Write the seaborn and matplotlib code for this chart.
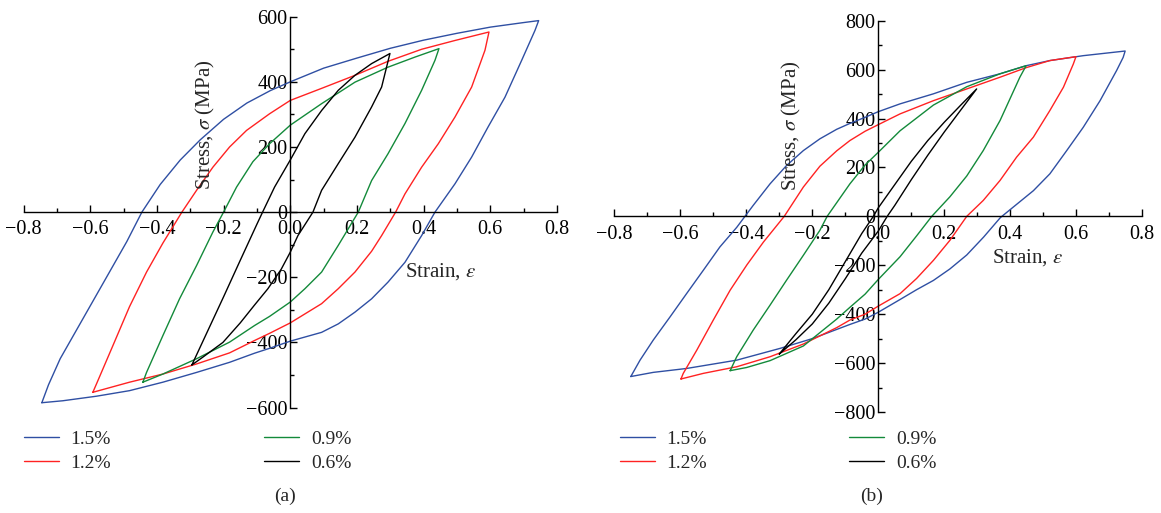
import numpy as np
import pandas as pd
import matplotlib
matplotlib.use("Agg")
import matplotlib.pyplot as plt
import seaborn as sns
from matplotlib.lines import Line2D
from matplotlib.ticker import MultipleLocator, FuncFormatter

# strain amplitudes and their colours
levels = ["1.5%", "1.2%", "0.9%", "0.6%"]
colors = ["#2f4fa3", "#ff2222", "#138a3a", "#000000"]

# hysteresis loops: (strain, stress MPa), upper branch then lower branch
loop_a_15 = [(-0.745, -585), (-0.725, -530), (-0.69, -450), (-0.64, -360), (-0.59, -270), (-0.54, -180),
             (-0.49, -90), (-0.445, 0), (-0.39, 85), (-0.33, 160), (-0.27, 222), (-0.2, 285), (-0.13, 335),
             (-0.06, 373), (0.0, 400), (0.1, 442), (0.2, 473), (0.3, 503), (0.4, 528), (0.5, 549), (0.6, 568),
             (0.7, 582), (0.745, 588),
             (0.734, 558), (0.694, 466), (0.644, 353), (0.593, 261), (0.544, 169), (0.494, 87), (0.434, 0),
             (0.394, -72), (0.344, -154), (0.293, -215), (0.244, -266), (0.194, -307), (0.144, -343),
             (0.094, -369), (0.0, -396), (-0.062, -418), (-0.107, -433), (-0.182, -461), (-0.281, -492),
             (-0.382, -522), (-0.482, -548), (-0.581, -565), (-0.682, -579), (-0.745, -585)]
loop_a_12 = [(-0.592, -553), (-0.581, -527), (-0.532, -410), (-0.482, -290), (-0.431, -184), (-0.382, -95),
             (-0.325, 0), (-0.281, 67), (-0.232, 138), (-0.182, 200), (-0.131, 251), (-0.062, 302), (0.0, 343),
             (0.094, 380), (0.194, 420), (0.293, 463), (0.394, 500), (0.494, 527), (0.596, 553),
             (0.584, 497), (0.544, 384), (0.494, 292), (0.444, 210), (0.394, 138), (0.344, 56), (0.316, 0),
             (0.274, -72), (0.244, -120), (0.194, -184), (0.144, -235), (0.094, -281), (0.0, -340),
             (-0.062, -372), (-0.107, -394), (-0.182, -432), (-0.281, -466), (-0.382, -497), (-0.482, -522),
             (-0.592, -553)]
loop_a_09 = [(-0.442, -522), (-0.431, -492), (-0.382, -379), (-0.332, -266), (-0.281, -164), (-0.232, -61),
             (-0.2, 0), (-0.161, 77), (-0.112, 155), (-0.062, 210), (0.0, 267), (0.094, 333), (0.194, 399),
             (0.293, 445), (0.374, 476), (0.446, 502),
             (0.434, 466), (0.394, 374), (0.344, 272), (0.293, 179), (0.244, 97), (0.204, 0), (0.144, -102),
             (0.094, -184), (0.044, -235), (0.0, -276), (-0.062, -320), (-0.107, -348), (-0.182, -399),
             (-0.281, -450), (-0.382, -497), (-0.442, -522)]
loop_a_06 = [(-0.295, -469), (-0.25, -370), (-0.2, -260), (-0.15, -148), (-0.1, -37), (-0.083, 0),
             (-0.047, 77), (0.0, 160), (0.044, 241), (0.094, 312), (0.144, 374), (0.194, 420), (0.244, 456),
             (0.299, 487),
             (0.274, 384), (0.244, 323), (0.194, 230), (0.144, 149), (0.094, 67), (0.068, 0), (0.023, -72),
             (0.0, -123), (-0.027, -175), (-0.067, -235), (-0.107, -285), (-0.15, -340), (-0.202, -400),
             (-0.262, -445), (-0.295, -469)]

loop_b_15 = [(-0.75, -655), (-0.722, -588), (-0.682, -506), (-0.631, -411), (-0.581, -316), (-0.53, -220),
             (-0.48, -125), (-0.429, -45), (-0.404, 0), (-0.379, 45), (-0.328, 133), (-0.278, 208),
             (-0.227, 269), (-0.177, 317), (-0.126, 356), (-0.086, 380), (-0.04, 405), (0.0, 428),
             (0.066, 460), (0.167, 501), (0.268, 548), (0.369, 583), (0.448, 616), (0.52, 637), (0.621, 657),
             (0.748, 676),
             (0.742, 650), (0.722, 596), (0.672, 473), (0.621, 364), (0.571, 269), (0.52, 174), (0.47, 105),
             (0.42, 50), (0.37, -5), (0.319, -85), (0.268, -158), (0.217, -215), (0.167, -262), (0.116, -300),
             (0.066, -340), (0.0, -392), (-0.04, -420), (-0.086, -442), (-0.2, -500), (-0.298, -540),
             (-0.429, -588), (-0.581, -622), (-0.682, -638), (-0.75, -655)]
loop_b_12 = [(-0.598, -665), (-0.591, -642), (-0.55, -547), (-0.5, -424), (-0.449, -302), (-0.398, -198),
             (-0.348, -105), (-0.285, 0), (-0.227, 120), (-0.177, 205), (-0.126, 268), (-0.086, 310),
             (-0.04, 348), (0.0, 375), (0.066, 419), (0.167, 473), (0.268, 521), (0.369, 569), (0.448, 608),
             (0.52, 637), (0.599, 653),
             (0.591, 623), (0.561, 528), (0.52, 433), (0.47, 324), (0.419, 242), (0.369, 147), (0.318, 65),
             (0.268, 0), (0.217, -98), (0.167, -180), (0.116, -254), (0.066, -316), (0.0, -367), (-0.04, -400),
             (-0.086, -424), (-0.126, -455), (-0.227, -522), (-0.328, -574), (-0.429, -615), (-0.53, -642),
             (-0.598, -665)]
loop_b_09 = [(-0.449, -631), (-0.429, -574), (-0.379, -465), (-0.328, -363), (-0.278, -261), (-0.227, -159),
             (-0.177, -57), (-0.155, 0), (-0.086, 133), (-0.04, 210), (0.0, 262), (0.066, 350), (0.167, 455),
             (0.268, 530), (0.369, 583), (0.448, 616),
             (0.429, 569), (0.369, 392), (0.318, 269), (0.268, 165), (0.217, 80), (0.162, 0), (0.116, -80),
             (0.066, -165), (0.0, -258), (-0.04, -318), (-0.086, -372), (-0.126, -420), (-0.227, -530),
             (-0.328, -590), (-0.399, -618), (-0.449, -631)]
loop_b_06 = [(-0.3, -563), (-0.25, -480), (-0.2, -400), (-0.15, -300), (-0.1, -185), (-0.05, -70),
             (-0.015, 0), (0.0, 35), (0.05, 130), (0.1, 225), (0.15, 310), (0.2, 385), (0.25, 455),
             (0.298, 521),
             (0.25, 435), (0.2, 345), (0.15, 250), (0.1, 150), (0.05, 45), (0.027, 0), (0.0, -60),
             (-0.05, -150), (-0.1, -255), (-0.15, -355), (-0.2, -440), (-0.25, -505), (-0.3, -563)]

panels = [
    ("(a)", [loop_a_15, loop_a_12, loop_a_09, loop_a_06], 600),
    ("(b)", [loop_b_15, loop_b_12, loop_b_09, loop_b_06], 800),
]

sns.set_style("ticks")
plt.rcParams["font.family"] = ["Liberation Serif", "DejaVu Serif"]
plt.rcParams["mathtext.fontset"] = "stix"

W, H = 1161, 513
fig = plt.figure(figsize=(W / 100, H / 100), dpi=100)

# axes boxes in pixels: left, top, right, bottom
boxes = [(23.5, 16.7, 557.0, 407.6), (614.3, 20.7, 1142.3, 412.0)]
ylabel_pos = [(0.342, 0.723), (0.336, 0.731)]
xlabel_pos = [(0.781, 0.349), (0.7835, 0.394)]
legend_x = [23.5, 620]
legend_colsp = [7.9, 7.3]
tag_x = [285, 872]


def fmt(v, _):
    if abs(v) < 1e-9:
        v = 0.0
    return v


for i, (tag, loops, ymax) in enumerate(panels):
    l, t, r, b = boxes[i]
    ax = fig.add_axes([l / W, (H - b) / H, (r - l) / W, (b - t) / H])

    frames = []
    for lvl, pts in zip(levels, loops):
        d = pd.DataFrame(pts, columns=["strain", "stress"])
        d["level"] = lvl
        frames.append(d)
    df = pd.concat(frames, ignore_index=True)

    sns.lineplot(data=df, x="strain", y="stress", hue="level", hue_order=levels,
                 palette=colors, sort=False, estimator=None, linewidth=1.0,
                 legend=False, ax=ax)

    ax.set_xlim(-0.8, 0.8)
    ax.set_ylim(-ymax, ymax)
    ax.set_xlabel("")
    ax.set_ylabel("")

    # axes crossing at the origin
    ax.spines["left"].set_position(("data", 0))
    ax.spines["bottom"].set_position(("data", 0))
    ax.spines["top"].set_visible(False)
    ax.spines["right"].set_visible(False)
    for s in ("left", "bottom"):
        ax.spines[s].set_linewidth(1.0)
        ax.spines[s].set_color("black")

    ax.xaxis.set_major_locator(MultipleLocator(0.2))
    ax.xaxis.set_minor_locator(MultipleLocator(0.1))
    ax.yaxis.set_major_locator(MultipleLocator(200))
    ax.yaxis.set_minor_locator(MultipleLocator(100))
    ax.xaxis.set_major_formatter(FuncFormatter(lambda v, p: f"{fmt(v, p):.1f}".replace("-", "\u2212")))
    ax.yaxis.set_major_formatter(FuncFormatter(lambda v, p: f"{fmt(v, p):.0f}".replace("-", "\u2212")))
    ax.tick_params(which="both", direction="in", width=1.0, colors="black", labelsize=14.5)
    ax.tick_params(which="major", length=5)
    ax.tick_params(which="minor", length=3)
    ax.tick_params(axis="x", which="major", pad=6)
    ax.tick_params(axis="y", which="major", pad=2)
    ax.patch.set_alpha(0)

    ax.text(*ylabel_pos[i], "Stress, $\\sigma$ (MPa)", transform=ax.transAxes, rotation=90,
            ha="center", va="center", fontsize=15)
    ax.text(*xlabel_pos[i], "Strain, $\\varepsilon$", transform=ax.transAxes,
            ha="center", va="center", fontsize=15)

    handles = [Line2D([], [], color=c, lw=1.0) for c in colors]
    ax.legend(handles, levels, ncol=2, frameon=False, fontsize=14,
              loc="upper left", bbox_to_anchor=(legend_x[i] / W, 1 - 430 / H),
              bbox_transform=fig.transFigure, borderpad=0, borderaxespad=0,
              handlelength=1.8, handletextpad=0.6, columnspacing=legend_colsp[i],
              labelspacing=0.35)

    fig.text(tag_x[i] / W, 1 - 496 / H, tag, ha="center", va="center", fontsize=14)

fig.savefig("out.png", dpi=100)
